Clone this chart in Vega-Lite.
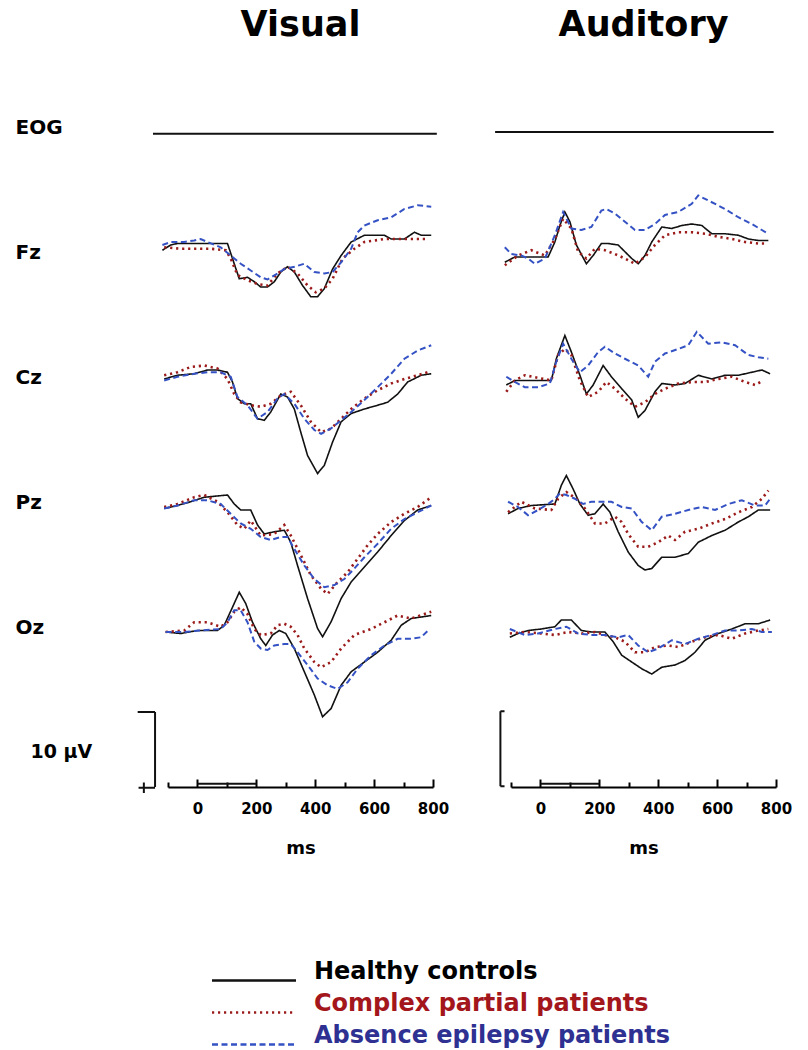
{
"$schema":"https://vega.github.io/schema/vega-lite/v6.json",
"background":"white",
"bounds":"flush",
"padding":{"left":15,"top":8,"right":5,"bottom":5},
"config":{"view":{"stroke":null},"font":"DejaVu Sans"},
"data":{"values":[
{"mod":"Visual","ch":"EOG","grp":"lab"},{"mod":"Visual","ch":"Fz","grp":"lab"},{"mod":"Visual","ch":"Cz","grp":"lab"},{"mod":"Visual","ch":"Pz","grp":"lab"},{"mod":"Visual","ch":"Oz","grp":"lab"},{"mod":"Visual","ch":"10 µV","grp":"lab"},
{"mod":"Visual","ch":"EOG","grp":"E","ms":-151,"uV":0.43},{"mod":"Visual","ch":"EOG","grp":"E","ms":813,"uV":0.43},
{"mod":"Auditory","ch":"EOG","grp":"E","ms":-154,"uV":0.2},{"mod":"Auditory","ch":"EOG","grp":"E","ms":792,"uV":0.2},
{"mod":"Visual","ch":"10 µV","grp":"cal","ms":-144,"ms2":-144,"uV":-5.8,"uV2":4.2},
{"mod":"Visual","ch":"10 µV","grp":"cal","ms":-203,"ms2":-144,"uV":-5.8,"uV2":-5.8},
{"mod":"Visual","ch":"10 µV","grp":"cal","ms":-200,"ms2":-144,"uV":4.3,"uV2":4.3},
{"mod":"Visual","ch":"10 µV","grp":"cal","ms":-182,"ms2":-182,"uV":3.6,"uV2":5.0},
{"mod":"Visual","ch":"10 µV","grp":"cal","ms":0,"ms2":200,"uV":3.75,"uV2":3.75},
{"mod":"Auditory","ch":"10 µV","grp":"cal","ms":-136,"ms2":-136,"uV":-5.9,"uV2":4.1},
{"mod":"Auditory","ch":"10 µV","grp":"cal","ms":-136,"ms2":-122,"uV":-5.9,"uV2":-5.9},
{"mod":"Auditory","ch":"10 µV","grp":"cal","ms":-136,"ms2":-122,"uV":4.1,"uV2":4.1},
{"mod":"Auditory","ch":"10 µV","grp":"cal","ms":0,"ms2":200,"uV":3.75,"uV2":3.75},

{"mod":"Visual","ch":"Fz","grp":"H","ms":-119,"uV":-0.7},{"mod":"Visual","ch":"Fz","grp":"H","ms":-91,"uV":-1.4},{"mod":"Visual","ch":"Fz","grp":"H","ms":-68,"uV":-1.6},{"mod":"Visual","ch":"Fz","grp":"H","ms":0,"uV":-1.6},{"mod":"Visual","ch":"Fz","grp":"H","ms":102,"uV":-1.6},{"mod":"Visual","ch":"Fz","grp":"H","ms":119,"uV":0.4},{"mod":"Visual","ch":"Fz","grp":"H","ms":142,"uV":3.1},{"mod":"Visual","ch":"Fz","grp":"H","ms":170,"uV":2.9},{"mod":"Visual","ch":"Fz","grp":"H","ms":193,"uV":3.5},{"mod":"Visual","ch":"Fz","grp":"H","ms":215,"uV":4.2},{"mod":"Visual","ch":"Fz","grp":"H","ms":238,"uV":4.2},{"mod":"Visual","ch":"Fz","grp":"H","ms":261,"uV":3.5},{"mod":"Visual","ch":"Fz","grp":"H","ms":283,"uV":2.2},{"mod":"Visual","ch":"Fz","grp":"H","ms":306,"uV":1.5},{"mod":"Visual","ch":"Fz","grp":"H","ms":329,"uV":2.2},{"mod":"Visual","ch":"Fz","grp":"H","ms":357,"uV":4.0},{"mod":"Visual","ch":"Fz","grp":"H","ms":385,"uV":5.5},{"mod":"Visual","ch":"Fz","grp":"H","ms":408,"uV":5.5},{"mod":"Visual","ch":"Fz","grp":"H","ms":431,"uV":4.4},{"mod":"Visual","ch":"Fz","grp":"H","ms":459,"uV":1.8},{"mod":"Visual","ch":"Fz","grp":"H","ms":488,"uV":0.0},{"mod":"Visual","ch":"Fz","grp":"H","ms":522,"uV":-1.8},{"mod":"Visual","ch":"Fz","grp":"H","ms":567,"uV":-2.7},{"mod":"Visual","ch":"Fz","grp":"H","ms":635,"uV":-2.7},{"mod":"Visual","ch":"Fz","grp":"H","ms":658,"uV":-2.2},{"mod":"Visual","ch":"Fz","grp":"H","ms":703,"uV":-2.2},{"mod":"Visual","ch":"Fz","grp":"H","ms":737,"uV":-3.1},{"mod":"Visual","ch":"Fz","grp":"H","ms":760,"uV":-2.7},{"mod":"Visual","ch":"Fz","grp":"H","ms":794,"uV":-2.7},

{"mod":"Visual","ch":"Fz","grp":"C","ms":-113,"uV":-1.1},{"mod":"Visual","ch":"Fz","grp":"C","ms":-57,"uV":-0.9},{"mod":"Visual","ch":"Fz","grp":"C","ms":45,"uV":-0.9},{"mod":"Visual","ch":"Fz","grp":"C","ms":96,"uV":-0.7},{"mod":"Visual","ch":"Fz","grp":"C","ms":113,"uV":0.4},{"mod":"Visual","ch":"Fz","grp":"C","ms":136,"uV":2.6},{"mod":"Visual","ch":"Fz","grp":"C","ms":170,"uV":3.3},{"mod":"Visual","ch":"Fz","grp":"C","ms":204,"uV":3.8},{"mod":"Visual","ch":"Fz","grp":"C","ms":238,"uV":4.0},{"mod":"Visual","ch":"Fz","grp":"C","ms":272,"uV":2.4},{"mod":"Visual","ch":"Fz","grp":"C","ms":306,"uV":1.5},{"mod":"Visual","ch":"Fz","grp":"C","ms":340,"uV":2.4},{"mod":"Visual","ch":"Fz","grp":"C","ms":374,"uV":4.0},{"mod":"Visual","ch":"Fz","grp":"C","ms":402,"uV":4.9},{"mod":"Visual","ch":"Fz","grp":"C","ms":431,"uV":4.4},{"mod":"Visual","ch":"Fz","grp":"C","ms":459,"uV":3.1},{"mod":"Visual","ch":"Fz","grp":"C","ms":493,"uV":0.4},{"mod":"Visual","ch":"Fz","grp":"C","ms":533,"uV":-0.9},{"mod":"Visual","ch":"Fz","grp":"C","ms":567,"uV":-1.8},{"mod":"Visual","ch":"Fz","grp":"C","ms":635,"uV":-2.2},{"mod":"Visual","ch":"Fz","grp":"C","ms":703,"uV":-2.2},{"mod":"Visual","ch":"Fz","grp":"C","ms":782,"uV":-2.2},

{"mod":"Visual","ch":"Fz","grp":"A","ms":-119,"uV":-1.4},{"mod":"Visual","ch":"Fz","grp":"A","ms":-91,"uV":-1.8},{"mod":"Visual","ch":"Fz","grp":"A","ms":-45,"uV":-1.8},{"mod":"Visual","ch":"Fz","grp":"A","ms":-11,"uV":-2.0},{"mod":"Visual","ch":"Fz","grp":"A","ms":11,"uV":-2.2},{"mod":"Visual","ch":"Fz","grp":"A","ms":34,"uV":-1.8},{"mod":"Visual","ch":"Fz","grp":"A","ms":79,"uV":-1.1},{"mod":"Visual","ch":"Fz","grp":"A","ms":113,"uV":0.0},{"mod":"Visual","ch":"Fz","grp":"A","ms":147,"uV":1.1},{"mod":"Visual","ch":"Fz","grp":"A","ms":181,"uV":2.0},{"mod":"Visual","ch":"Fz","grp":"A","ms":215,"uV":2.9},{"mod":"Visual","ch":"Fz","grp":"A","ms":238,"uV":3.2},{"mod":"Visual","ch":"Fz","grp":"A","ms":272,"uV":2.4},{"mod":"Visual","ch":"Fz","grp":"A","ms":295,"uV":1.8},{"mod":"Visual","ch":"Fz","grp":"A","ms":329,"uV":1.5},{"mod":"Visual","ch":"Fz","grp":"A","ms":363,"uV":1.1},{"mod":"Visual","ch":"Fz","grp":"A","ms":397,"uV":2.2},{"mod":"Visual","ch":"Fz","grp":"A","ms":431,"uV":2.4},{"mod":"Visual","ch":"Fz","grp":"A","ms":459,"uV":2.2},{"mod":"Visual","ch":"Fz","grp":"A","ms":488,"uV":0.9},{"mod":"Visual","ch":"Fz","grp":"A","ms":522,"uV":-0.9},{"mod":"Visual","ch":"Fz","grp":"A","ms":544,"uV":-3.1},{"mod":"Visual","ch":"Fz","grp":"A","ms":567,"uV":-4.0},{"mod":"Visual","ch":"Fz","grp":"A","ms":612,"uV":-4.7},{"mod":"Visual","ch":"Fz","grp":"A","ms":658,"uV":-5.1},{"mod":"Visual","ch":"Fz","grp":"A","ms":703,"uV":-6.2},{"mod":"Visual","ch":"Fz","grp":"A","ms":748,"uV":-6.7},{"mod":"Visual","ch":"Fz","grp":"A","ms":794,"uV":-6.5},

{"mod":"Visual","ch":"Cz","grp":"H","ms":-113,"uV":-0.2},{"mod":"Visual","ch":"Cz","grp":"H","ms":-68,"uV":-0.7},{"mod":"Visual","ch":"Cz","grp":"H","ms":-11,"uV":-0.9},{"mod":"Visual","ch":"Cz","grp":"H","ms":34,"uV":-1.4},{"mod":"Visual","ch":"Cz","grp":"H","ms":68,"uV":-1.4},{"mod":"Visual","ch":"Cz","grp":"H","ms":102,"uV":-1.1},{"mod":"Visual","ch":"Cz","grp":"H","ms":119,"uV":0.2},{"mod":"Visual","ch":"Cz","grp":"H","ms":136,"uV":2.4},{"mod":"Visual","ch":"Cz","grp":"H","ms":159,"uV":3.1},{"mod":"Visual","ch":"Cz","grp":"H","ms":181,"uV":3.1},{"mod":"Visual","ch":"Cz","grp":"H","ms":204,"uV":5.1},{"mod":"Visual","ch":"Cz","grp":"H","ms":227,"uV":5.3},{"mod":"Visual","ch":"Cz","grp":"H","ms":249,"uV":4.2},{"mod":"Visual","ch":"Cz","grp":"H","ms":283,"uV":1.8},{"mod":"Visual","ch":"Cz","grp":"H","ms":306,"uV":2.2},{"mod":"Visual","ch":"Cz","grp":"H","ms":329,"uV":3.8},{"mod":"Visual","ch":"Cz","grp":"H","ms":351,"uV":6.9},{"mod":"Visual","ch":"Cz","grp":"H","ms":374,"uV":10.0},{"mod":"Visual","ch":"Cz","grp":"H","ms":408,"uV":12.4},{"mod":"Visual","ch":"Cz","grp":"H","ms":431,"uV":11.3},{"mod":"Visual","ch":"Cz","grp":"H","ms":459,"uV":8.2},{"mod":"Visual","ch":"Cz","grp":"H","ms":488,"uV":5.5},{"mod":"Visual","ch":"Cz","grp":"H","ms":522,"uV":4.4},{"mod":"Visual","ch":"Cz","grp":"H","ms":567,"uV":3.8},{"mod":"Visual","ch":"Cz","grp":"H","ms":612,"uV":3.3},{"mod":"Visual","ch":"Cz","grp":"H","ms":646,"uV":2.9},{"mod":"Visual","ch":"Cz","grp":"H","ms":680,"uV":1.8},{"mod":"Visual","ch":"Cz","grp":"H","ms":714,"uV":0.2},{"mod":"Visual","ch":"Cz","grp":"H","ms":760,"uV":-0.7},{"mod":"Visual","ch":"Cz","grp":"H","ms":794,"uV":-0.9},

{"mod":"Visual","ch":"Cz","grp":"C","ms":-113,"uV":-0.7},{"mod":"Visual","ch":"Cz","grp":"C","ms":-68,"uV":-1.1},{"mod":"Visual","ch":"Cz","grp":"C","ms":-23,"uV":-1.8},{"mod":"Visual","ch":"Cz","grp":"C","ms":23,"uV":-2.0},{"mod":"Visual","ch":"Cz","grp":"C","ms":68,"uV":-1.6},{"mod":"Visual","ch":"Cz","grp":"C","ms":102,"uV":-0.2},{"mod":"Visual","ch":"Cz","grp":"C","ms":125,"uV":1.8},{"mod":"Visual","ch":"Cz","grp":"C","ms":147,"uV":2.9},{"mod":"Visual","ch":"Cz","grp":"C","ms":181,"uV":3.3},{"mod":"Visual","ch":"Cz","grp":"C","ms":215,"uV":3.5},{"mod":"Visual","ch":"Cz","grp":"C","ms":249,"uV":3.1},{"mod":"Visual","ch":"Cz","grp":"C","ms":283,"uV":2.0},{"mod":"Visual","ch":"Cz","grp":"C","ms":317,"uV":1.5},{"mod":"Visual","ch":"Cz","grp":"C","ms":351,"uV":3.3},{"mod":"Visual","ch":"Cz","grp":"C","ms":385,"uV":5.5},{"mod":"Visual","ch":"Cz","grp":"C","ms":420,"uV":6.9},{"mod":"Visual","ch":"Cz","grp":"C","ms":454,"uV":6.4},{"mod":"Visual","ch":"Cz","grp":"C","ms":488,"uV":5.1},{"mod":"Visual","ch":"Cz","grp":"C","ms":522,"uV":3.8},{"mod":"Visual","ch":"Cz","grp":"C","ms":567,"uV":2.4},{"mod":"Visual","ch":"Cz","grp":"C","ms":612,"uV":1.3},{"mod":"Visual","ch":"Cz","grp":"C","ms":658,"uV":0.4},{"mod":"Visual","ch":"Cz","grp":"C","ms":703,"uV":-0.2},{"mod":"Visual","ch":"Cz","grp":"C","ms":748,"uV":-0.7},{"mod":"Visual","ch":"Cz","grp":"C","ms":782,"uV":-1.1},

{"mod":"Visual","ch":"Cz","grp":"A","ms":-113,"uV":0.0},{"mod":"Visual","ch":"Cz","grp":"A","ms":-68,"uV":-0.5},{"mod":"Visual","ch":"Cz","grp":"A","ms":-11,"uV":-0.9},{"mod":"Visual","ch":"Cz","grp":"A","ms":34,"uV":-1.1},{"mod":"Visual","ch":"Cz","grp":"A","ms":79,"uV":-1.1},{"mod":"Visual","ch":"Cz","grp":"A","ms":113,"uV":-0.5},{"mod":"Visual","ch":"Cz","grp":"A","ms":136,"uV":2.2},{"mod":"Visual","ch":"Cz","grp":"A","ms":170,"uV":3.3},{"mod":"Visual","ch":"Cz","grp":"A","ms":204,"uV":5.1},{"mod":"Visual","ch":"Cz","grp":"A","ms":238,"uV":4.2},{"mod":"Visual","ch":"Cz","grp":"A","ms":272,"uV":2.4},{"mod":"Visual","ch":"Cz","grp":"A","ms":295,"uV":1.8},{"mod":"Visual","ch":"Cz","grp":"A","ms":329,"uV":3.1},{"mod":"Visual","ch":"Cz","grp":"A","ms":363,"uV":5.1},{"mod":"Visual","ch":"Cz","grp":"A","ms":397,"uV":6.6},{"mod":"Visual","ch":"Cz","grp":"A","ms":420,"uV":7.1},{"mod":"Visual","ch":"Cz","grp":"A","ms":454,"uV":6.4},{"mod":"Visual","ch":"Cz","grp":"A","ms":488,"uV":5.3},{"mod":"Visual","ch":"Cz","grp":"A","ms":522,"uV":4.2},{"mod":"Visual","ch":"Cz","grp":"A","ms":567,"uV":2.6},{"mod":"Visual","ch":"Cz","grp":"A","ms":612,"uV":0.9},{"mod":"Visual","ch":"Cz","grp":"A","ms":658,"uV":-0.9},{"mod":"Visual","ch":"Cz","grp":"A","ms":703,"uV":-2.9},{"mod":"Visual","ch":"Cz","grp":"A","ms":748,"uV":-4.0},{"mod":"Visual","ch":"Cz","grp":"A","ms":794,"uV":-4.7},

{"mod":"Visual","ch":"Pz","grp":"H","ms":-113,"uV":0.4},{"mod":"Visual","ch":"Pz","grp":"H","ms":-68,"uV":0.0},{"mod":"Visual","ch":"Pz","grp":"H","ms":-23,"uV":-0.5},{"mod":"Visual","ch":"Pz","grp":"H","ms":23,"uV":-1.1},{"mod":"Visual","ch":"Pz","grp":"H","ms":102,"uV":-1.4},{"mod":"Visual","ch":"Pz","grp":"H","ms":125,"uV":-0.2},{"mod":"Visual","ch":"Pz","grp":"H","ms":147,"uV":0.6},{"mod":"Visual","ch":"Pz","grp":"H","ms":181,"uV":0.6},{"mod":"Visual","ch":"Pz","grp":"H","ms":204,"uV":2.6},{"mod":"Visual","ch":"Pz","grp":"H","ms":227,"uV":3.8},{"mod":"Visual","ch":"Pz","grp":"H","ms":261,"uV":3.5},{"mod":"Visual","ch":"Pz","grp":"H","ms":295,"uV":3.3},{"mod":"Visual","ch":"Pz","grp":"H","ms":317,"uV":4.9},{"mod":"Visual","ch":"Pz","grp":"H","ms":340,"uV":8.0},{"mod":"Visual","ch":"Pz","grp":"H","ms":374,"uV":12.4},{"mod":"Visual","ch":"Pz","grp":"H","ms":408,"uV":16.4},{"mod":"Visual","ch":"Pz","grp":"H","ms":425,"uV":17.5},{"mod":"Visual","ch":"Pz","grp":"H","ms":454,"uV":15.5},{"mod":"Visual","ch":"Pz","grp":"H","ms":488,"uV":12.4},{"mod":"Visual","ch":"Pz","grp":"H","ms":522,"uV":10.2},{"mod":"Visual","ch":"Pz","grp":"H","ms":567,"uV":8.2},{"mod":"Visual","ch":"Pz","grp":"H","ms":612,"uV":6.2},{"mod":"Visual","ch":"Pz","grp":"H","ms":658,"uV":4.0},{"mod":"Visual","ch":"Pz","grp":"H","ms":703,"uV":2.0},{"mod":"Visual","ch":"Pz","grp":"H","ms":748,"uV":0.6},{"mod":"Visual","ch":"Pz","grp":"H","ms":794,"uV":0.0},

{"mod":"Visual","ch":"Pz","grp":"C","ms":-113,"uV":0.2},{"mod":"Visual","ch":"Pz","grp":"C","ms":-68,"uV":-0.2},{"mod":"Visual","ch":"Pz","grp":"C","ms":-11,"uV":-1.1},{"mod":"Visual","ch":"Pz","grp":"C","ms":23,"uV":-1.4},{"mod":"Visual","ch":"Pz","grp":"C","ms":68,"uV":-0.5},{"mod":"Visual","ch":"Pz","grp":"C","ms":102,"uV":0.9},{"mod":"Visual","ch":"Pz","grp":"C","ms":136,"uV":2.6},{"mod":"Visual","ch":"Pz","grp":"C","ms":159,"uV":3.1},{"mod":"Visual","ch":"Pz","grp":"C","ms":181,"uV":2.0},{"mod":"Visual","ch":"Pz","grp":"C","ms":215,"uV":4.0},{"mod":"Visual","ch":"Pz","grp":"C","ms":261,"uV":3.8},{"mod":"Visual","ch":"Pz","grp":"C","ms":295,"uV":2.6},{"mod":"Visual","ch":"Pz","grp":"C","ms":317,"uV":4.0},{"mod":"Visual","ch":"Pz","grp":"C","ms":351,"uV":6.6},{"mod":"Visual","ch":"Pz","grp":"C","ms":385,"uV":9.3},{"mod":"Visual","ch":"Pz","grp":"C","ms":420,"uV":11.1},{"mod":"Visual","ch":"Pz","grp":"C","ms":442,"uV":11.8},{"mod":"Visual","ch":"Pz","grp":"C","ms":476,"uV":10.2},{"mod":"Visual","ch":"Pz","grp":"C","ms":510,"uV":8.9},{"mod":"Visual","ch":"Pz","grp":"C","ms":544,"uV":7.1},{"mod":"Visual","ch":"Pz","grp":"C","ms":578,"uV":5.3},{"mod":"Visual","ch":"Pz","grp":"C","ms":612,"uV":3.8},{"mod":"Visual","ch":"Pz","grp":"C","ms":658,"uV":2.2},{"mod":"Visual","ch":"Pz","grp":"C","ms":703,"uV":1.1},{"mod":"Visual","ch":"Pz","grp":"C","ms":748,"uV":0.2},{"mod":"Visual","ch":"Pz","grp":"C","ms":794,"uV":-1.1},

{"mod":"Visual","ch":"Pz","grp":"A","ms":-113,"uV":0.4},{"mod":"Visual","ch":"Pz","grp":"A","ms":-68,"uV":0.0},{"mod":"Visual","ch":"Pz","grp":"A","ms":-11,"uV":-0.7},{"mod":"Visual","ch":"Pz","grp":"A","ms":34,"uV":-0.7},{"mod":"Visual","ch":"Pz","grp":"A","ms":79,"uV":-0.2},{"mod":"Visual","ch":"Pz","grp":"A","ms":113,"uV":1.1},{"mod":"Visual","ch":"Pz","grp":"A","ms":147,"uV":2.4},{"mod":"Visual","ch":"Pz","grp":"A","ms":181,"uV":3.1},{"mod":"Visual","ch":"Pz","grp":"A","ms":215,"uV":4.2},{"mod":"Visual","ch":"Pz","grp":"A","ms":249,"uV":4.6},{"mod":"Visual","ch":"Pz","grp":"A","ms":283,"uV":4.2},{"mod":"Visual","ch":"Pz","grp":"A","ms":306,"uV":4.2},{"mod":"Visual","ch":"Pz","grp":"A","ms":329,"uV":5.8},{"mod":"Visual","ch":"Pz","grp":"A","ms":363,"uV":8.0},{"mod":"Visual","ch":"Pz","grp":"A","ms":397,"uV":9.8},{"mod":"Visual","ch":"Pz","grp":"A","ms":431,"uV":10.9},{"mod":"Visual","ch":"Pz","grp":"A","ms":465,"uV":10.6},{"mod":"Visual","ch":"Pz","grp":"A","ms":499,"uV":9.8},{"mod":"Visual","ch":"Pz","grp":"A","ms":533,"uV":8.4},{"mod":"Visual","ch":"Pz","grp":"A","ms":567,"uV":6.9},{"mod":"Visual","ch":"Pz","grp":"A","ms":612,"uV":5.1},{"mod":"Visual","ch":"Pz","grp":"A","ms":658,"uV":3.1},{"mod":"Visual","ch":"Pz","grp":"A","ms":703,"uV":1.8},{"mod":"Visual","ch":"Pz","grp":"A","ms":748,"uV":0.9},{"mod":"Visual","ch":"Pz","grp":"A","ms":794,"uV":0.0},

{"mod":"Visual","ch":"Oz","grp":"H","ms":-108,"uV":0.2},{"mod":"Visual","ch":"Oz","grp":"H","ms":-57,"uV":0.4},{"mod":"Visual","ch":"Oz","grp":"H","ms":0,"uV":0.0},{"mod":"Visual","ch":"Oz","grp":"H","ms":68,"uV":0.0},{"mod":"Visual","ch":"Oz","grp":"H","ms":91,"uV":-0.7},{"mod":"Visual","ch":"Oz","grp":"H","ms":119,"uV":-3.1},{"mod":"Visual","ch":"Oz","grp":"H","ms":142,"uV":-5.1},{"mod":"Visual","ch":"Oz","grp":"H","ms":164,"uV":-3.6},{"mod":"Visual","ch":"Oz","grp":"H","ms":187,"uV":-1.1},{"mod":"Visual","ch":"Oz","grp":"H","ms":215,"uV":1.1},{"mod":"Visual","ch":"Oz","grp":"H","ms":232,"uV":2.0},{"mod":"Visual","ch":"Oz","grp":"H","ms":255,"uV":0.6},{"mod":"Visual","ch":"Oz","grp":"H","ms":278,"uV":0.0},{"mod":"Visual","ch":"Oz","grp":"H","ms":300,"uV":0.4},{"mod":"Visual","ch":"Oz","grp":"H","ms":329,"uV":2.4},{"mod":"Visual","ch":"Oz","grp":"H","ms":363,"uV":5.5},{"mod":"Visual","ch":"Oz","grp":"H","ms":397,"uV":8.6},{"mod":"Visual","ch":"Oz","grp":"H","ms":425,"uV":11.5},{"mod":"Visual","ch":"Oz","grp":"H","ms":454,"uV":10.4},{"mod":"Visual","ch":"Oz","grp":"H","ms":488,"uV":7.3},{"mod":"Visual","ch":"Oz","grp":"H","ms":522,"uV":5.5},{"mod":"Visual","ch":"Oz","grp":"H","ms":567,"uV":4.2},{"mod":"Visual","ch":"Oz","grp":"H","ms":612,"uV":2.9},{"mod":"Visual","ch":"Oz","grp":"H","ms":658,"uV":1.3},{"mod":"Visual","ch":"Oz","grp":"H","ms":692,"uV":-0.7},{"mod":"Visual","ch":"Oz","grp":"H","ms":726,"uV":-1.6},{"mod":"Visual","ch":"Oz","grp":"H","ms":794,"uV":-2.0},

{"mod":"Visual","ch":"Oz","grp":"C","ms":-108,"uV":0.2},{"mod":"Visual","ch":"Oz","grp":"C","ms":-45,"uV":0.0},{"mod":"Visual","ch":"Oz","grp":"C","ms":-11,"uV":-1.1},{"mod":"Visual","ch":"Oz","grp":"C","ms":34,"uV":-1.1},{"mod":"Visual","ch":"Oz","grp":"C","ms":79,"uV":-0.5},{"mod":"Visual","ch":"Oz","grp":"C","ms":102,"uV":-1.1},{"mod":"Visual","ch":"Oz","grp":"C","ms":125,"uV":-2.5},{"mod":"Visual","ch":"Oz","grp":"C","ms":147,"uV":-3.1},{"mod":"Visual","ch":"Oz","grp":"C","ms":170,"uV":-2.2},{"mod":"Visual","ch":"Oz","grp":"C","ms":193,"uV":-0.2},{"mod":"Visual","ch":"Oz","grp":"C","ms":215,"uV":0.6},{"mod":"Visual","ch":"Oz","grp":"C","ms":249,"uV":0.4},{"mod":"Visual","ch":"Oz","grp":"C","ms":272,"uV":-0.7},{"mod":"Visual","ch":"Oz","grp":"C","ms":295,"uV":-0.9},{"mod":"Visual","ch":"Oz","grp":"C","ms":317,"uV":-0.5},{"mod":"Visual","ch":"Oz","grp":"C","ms":340,"uV":0.6},{"mod":"Visual","ch":"Oz","grp":"C","ms":363,"uV":2.4},{"mod":"Visual","ch":"Oz","grp":"C","ms":397,"uV":4.2},{"mod":"Visual","ch":"Oz","grp":"C","ms":420,"uV":4.9},{"mod":"Visual","ch":"Oz","grp":"C","ms":454,"uV":4.2},{"mod":"Visual","ch":"Oz","grp":"C","ms":488,"uV":2.4},{"mod":"Visual","ch":"Oz","grp":"C","ms":533,"uV":0.6},{"mod":"Visual","ch":"Oz","grp":"C","ms":590,"uV":-0.2},{"mod":"Visual","ch":"Oz","grp":"C","ms":635,"uV":-1.1},{"mod":"Visual","ch":"Oz","grp":"C","ms":680,"uV":-2.0},{"mod":"Visual","ch":"Oz","grp":"C","ms":726,"uV":-1.6},{"mod":"Visual","ch":"Oz","grp":"C","ms":794,"uV":-2.5},

{"mod":"Visual","ch":"Oz","grp":"A","ms":-108,"uV":0.2},{"mod":"Visual","ch":"Oz","grp":"A","ms":-45,"uV":0.2},{"mod":"Visual","ch":"Oz","grp":"A","ms":11,"uV":0.0},{"mod":"Visual","ch":"Oz","grp":"A","ms":79,"uV":-0.2},{"mod":"Visual","ch":"Oz","grp":"A","ms":102,"uV":-1.1},{"mod":"Visual","ch":"Oz","grp":"A","ms":125,"uV":-2.7},{"mod":"Visual","ch":"Oz","grp":"A","ms":147,"uV":-2.7},{"mod":"Visual","ch":"Oz","grp":"A","ms":170,"uV":-1.1},{"mod":"Visual","ch":"Oz","grp":"A","ms":193,"uV":1.5},{"mod":"Visual","ch":"Oz","grp":"A","ms":215,"uV":2.4},{"mod":"Visual","ch":"Oz","grp":"A","ms":238,"uV":2.6},{"mod":"Visual","ch":"Oz","grp":"A","ms":261,"uV":2.0},{"mod":"Visual","ch":"Oz","grp":"A","ms":295,"uV":1.8},{"mod":"Visual","ch":"Oz","grp":"A","ms":317,"uV":1.8},{"mod":"Visual","ch":"Oz","grp":"A","ms":340,"uV":2.9},{"mod":"Visual","ch":"Oz","grp":"A","ms":374,"uV":4.6},{"mod":"Visual","ch":"Oz","grp":"A","ms":408,"uV":6.4},{"mod":"Visual","ch":"Oz","grp":"A","ms":442,"uV":7.3},{"mod":"Visual","ch":"Oz","grp":"A","ms":476,"uV":7.8},{"mod":"Visual","ch":"Oz","grp":"A","ms":510,"uV":6.9},{"mod":"Visual","ch":"Oz","grp":"A","ms":544,"uV":5.1},{"mod":"Visual","ch":"Oz","grp":"A","ms":590,"uV":3.3},{"mod":"Visual","ch":"Oz","grp":"A","ms":635,"uV":2.0},{"mod":"Visual","ch":"Oz","grp":"A","ms":680,"uV":1.1},{"mod":"Visual","ch":"Oz","grp":"A","ms":726,"uV":1.1},{"mod":"Visual","ch":"Oz","grp":"A","ms":760,"uV":0.9},{"mod":"Visual","ch":"Oz","grp":"A","ms":788,"uV":-0.2},

{"mod":"Auditory","ch":"Fz","grp":"H","ms":-121,"uV":0.9},{"mod":"Auditory","ch":"Fz","grp":"H","ms":-87,"uV":0.2},{"mod":"Auditory","ch":"Fz","grp":"H","ms":-53,"uV":0.2},{"mod":"Auditory","ch":"Fz","grp":"H","ms":26,"uV":0.2},{"mod":"Auditory","ch":"Fz","grp":"H","ms":49,"uV":-1.8},{"mod":"Auditory","ch":"Fz","grp":"H","ms":66,"uV":-4.0},{"mod":"Auditory","ch":"Fz","grp":"H","ms":83,"uV":-5.8},{"mod":"Auditory","ch":"Fz","grp":"H","ms":100,"uV":-4.5},{"mod":"Auditory","ch":"Fz","grp":"H","ms":122,"uV":-1.4},{"mod":"Auditory","ch":"Fz","grp":"H","ms":156,"uV":1.1},{"mod":"Auditory","ch":"Fz","grp":"H","ms":179,"uV":0.0},{"mod":"Auditory","ch":"Fz","grp":"H","ms":207,"uV":-1.6},{"mod":"Auditory","ch":"Fz","grp":"H","ms":230,"uV":-1.6},{"mod":"Auditory","ch":"Fz","grp":"H","ms":264,"uV":-1.4},{"mod":"Auditory","ch":"Fz","grp":"H","ms":287,"uV":-0.5},{"mod":"Auditory","ch":"Fz","grp":"H","ms":310,"uV":0.4},{"mod":"Auditory","ch":"Fz","grp":"H","ms":332,"uV":1.1},{"mod":"Auditory","ch":"Fz","grp":"H","ms":355,"uV":0.0},{"mod":"Auditory","ch":"Fz","grp":"H","ms":378,"uV":-1.8},{"mod":"Auditory","ch":"Fz","grp":"H","ms":412,"uV":-3.8},{"mod":"Auditory","ch":"Fz","grp":"H","ms":446,"uV":-3.6},{"mod":"Auditory","ch":"Fz","grp":"H","ms":480,"uV":-4.0},{"mod":"Auditory","ch":"Fz","grp":"H","ms":514,"uV":-4.2},{"mod":"Auditory","ch":"Fz","grp":"H","ms":548,"uV":-4.0},{"mod":"Auditory","ch":"Fz","grp":"H","ms":582,"uV":-2.9},{"mod":"Auditory","ch":"Fz","grp":"H","ms":627,"uV":-2.9},{"mod":"Auditory","ch":"Fz","grp":"H","ms":672,"uV":-2.7},{"mod":"Auditory","ch":"Fz","grp":"H","ms":706,"uV":-2.2},{"mod":"Auditory","ch":"Fz","grp":"H","ms":740,"uV":-2.0},{"mod":"Auditory","ch":"Fz","grp":"H","ms":774,"uV":-2.0},

{"mod":"Auditory","ch":"Fz","grp":"C","ms":-121,"uV":1.3},{"mod":"Auditory","ch":"Fz","grp":"C","ms":-76,"uV":0.0},{"mod":"Auditory","ch":"Fz","grp":"C","ms":-31,"uV":-0.7},{"mod":"Auditory","ch":"Fz","grp":"C","ms":15,"uV":0.0},{"mod":"Auditory","ch":"Fz","grp":"C","ms":49,"uV":-2.2},{"mod":"Auditory","ch":"Fz","grp":"C","ms":77,"uV":-4.9},{"mod":"Auditory","ch":"Fz","grp":"C","ms":105,"uV":-3.6},{"mod":"Auditory","ch":"Fz","grp":"C","ms":128,"uV":-0.5},{"mod":"Auditory","ch":"Fz","grp":"C","ms":156,"uV":0.4},{"mod":"Auditory","ch":"Fz","grp":"C","ms":185,"uV":-0.9},{"mod":"Auditory","ch":"Fz","grp":"C","ms":219,"uV":-0.7},{"mod":"Auditory","ch":"Fz","grp":"C","ms":253,"uV":-0.2},{"mod":"Auditory","ch":"Fz","grp":"C","ms":287,"uV":0.4},{"mod":"Auditory","ch":"Fz","grp":"C","ms":321,"uV":1.1},{"mod":"Auditory","ch":"Fz","grp":"C","ms":355,"uV":0.2},{"mod":"Auditory","ch":"Fz","grp":"C","ms":389,"uV":-1.4},{"mod":"Auditory","ch":"Fz","grp":"C","ms":423,"uV":-2.7},{"mod":"Auditory","ch":"Fz","grp":"C","ms":468,"uV":-3.1},{"mod":"Auditory","ch":"Fz","grp":"C","ms":514,"uV":-3.1},{"mod":"Auditory","ch":"Fz","grp":"C","ms":559,"uV":-2.9},{"mod":"Auditory","ch":"Fz","grp":"C","ms":604,"uV":-2.5},{"mod":"Auditory","ch":"Fz","grp":"C","ms":650,"uV":-2.2},{"mod":"Auditory","ch":"Fz","grp":"C","ms":695,"uV":-1.8},{"mod":"Auditory","ch":"Fz","grp":"C","ms":740,"uV":-1.6},{"mod":"Auditory","ch":"Fz","grp":"C","ms":763,"uV":-1.6},

{"mod":"Auditory","ch":"Fz","grp":"A","ms":-121,"uV":-1.1},{"mod":"Auditory","ch":"Fz","grp":"A","ms":-99,"uV":-0.2},{"mod":"Auditory","ch":"Fz","grp":"A","ms":-65,"uV":0.0},{"mod":"Auditory","ch":"Fz","grp":"A","ms":-42,"uV":0.4},{"mod":"Auditory","ch":"Fz","grp":"A","ms":-19,"uV":1.1},{"mod":"Auditory","ch":"Fz","grp":"A","ms":15,"uV":0.4},{"mod":"Auditory","ch":"Fz","grp":"A","ms":49,"uV":-2.7},{"mod":"Auditory","ch":"Fz","grp":"A","ms":77,"uV":-5.8},{"mod":"Auditory","ch":"Fz","grp":"A","ms":105,"uV":-3.6},{"mod":"Auditory","ch":"Fz","grp":"A","ms":139,"uV":-3.4},{"mod":"Auditory","ch":"Fz","grp":"A","ms":173,"uV":-3.8},{"mod":"Auditory","ch":"Fz","grp":"A","ms":207,"uV":-6.0},{"mod":"Auditory","ch":"Fz","grp":"A","ms":224,"uV":-6.2},{"mod":"Auditory","ch":"Fz","grp":"A","ms":253,"uV":-5.6},{"mod":"Auditory","ch":"Fz","grp":"A","ms":287,"uV":-4.5},{"mod":"Auditory","ch":"Fz","grp":"A","ms":321,"uV":-3.4},{"mod":"Auditory","ch":"Fz","grp":"A","ms":355,"uV":-3.4},{"mod":"Auditory","ch":"Fz","grp":"A","ms":389,"uV":-4.2},{"mod":"Auditory","ch":"Fz","grp":"A","ms":423,"uV":-5.4},{"mod":"Auditory","ch":"Fz","grp":"A","ms":468,"uV":-5.8},{"mod":"Auditory","ch":"Fz","grp":"A","ms":514,"uV":-6.9},{"mod":"Auditory","ch":"Fz","grp":"A","ms":536,"uV":-8.0},{"mod":"Auditory","ch":"Fz","grp":"A","ms":582,"uV":-7.1},{"mod":"Auditory","ch":"Fz","grp":"A","ms":627,"uV":-6.2},{"mod":"Auditory","ch":"Fz","grp":"A","ms":672,"uV":-5.1},{"mod":"Auditory","ch":"Fz","grp":"A","ms":718,"uV":-4.2},{"mod":"Auditory","ch":"Fz","grp":"A","ms":752,"uV":-3.4},{"mod":"Auditory","ch":"Fz","grp":"A","ms":774,"uV":-2.9},

{"mod":"Auditory","ch":"Cz","grp":"H","ms":-116,"uV":0.6},{"mod":"Auditory","ch":"Cz","grp":"H","ms":-87,"uV":0.0},{"mod":"Auditory","ch":"Cz","grp":"H","ms":37,"uV":0.0},{"mod":"Auditory","ch":"Cz","grp":"H","ms":54,"uV":-2.9},{"mod":"Auditory","ch":"Cz","grp":"H","ms":83,"uV":-6.0},{"mod":"Auditory","ch":"Cz","grp":"H","ms":105,"uV":-3.8},{"mod":"Auditory","ch":"Cz","grp":"H","ms":134,"uV":-0.7},{"mod":"Auditory","ch":"Cz","grp":"H","ms":156,"uV":1.8},{"mod":"Auditory","ch":"Cz","grp":"H","ms":179,"uV":0.6},{"mod":"Auditory","ch":"Cz","grp":"H","ms":213,"uV":-2.0},{"mod":"Auditory","ch":"Cz","grp":"H","ms":241,"uV":-0.5},{"mod":"Auditory","ch":"Cz","grp":"H","ms":276,"uV":1.1},{"mod":"Auditory","ch":"Cz","grp":"H","ms":310,"uV":2.6},{"mod":"Auditory","ch":"Cz","grp":"H","ms":332,"uV":4.9},{"mod":"Auditory","ch":"Cz","grp":"H","ms":355,"uV":4.0},{"mod":"Auditory","ch":"Cz","grp":"H","ms":389,"uV":1.5},{"mod":"Auditory","ch":"Cz","grp":"H","ms":412,"uV":0.4},{"mod":"Auditory","ch":"Cz","grp":"H","ms":457,"uV":0.6},{"mod":"Auditory","ch":"Cz","grp":"H","ms":491,"uV":0.4},{"mod":"Auditory","ch":"Cz","grp":"H","ms":536,"uV":-0.7},{"mod":"Auditory","ch":"Cz","grp":"H","ms":582,"uV":-0.2},{"mod":"Auditory","ch":"Cz","grp":"H","ms":627,"uV":-0.7},{"mod":"Auditory","ch":"Cz","grp":"H","ms":672,"uV":-0.7},{"mod":"Auditory","ch":"Cz","grp":"H","ms":718,"uV":-1.1},{"mod":"Auditory","ch":"Cz","grp":"H","ms":752,"uV":-1.4},{"mod":"Auditory","ch":"Cz","grp":"H","ms":780,"uV":-0.9},

{"mod":"Auditory","ch":"Cz","grp":"C","ms":-116,"uV":1.5},{"mod":"Auditory","ch":"Cz","grp":"C","ms":-87,"uV":0.0},{"mod":"Auditory","ch":"Cz","grp":"C","ms":-53,"uV":-0.7},{"mod":"Auditory","ch":"Cz","grp":"C","ms":37,"uV":0.0},{"mod":"Auditory","ch":"Cz","grp":"C","ms":60,"uV":-3.4},{"mod":"Auditory","ch":"Cz","grp":"C","ms":83,"uV":-4.2},{"mod":"Auditory","ch":"Cz","grp":"C","ms":105,"uV":-3.4},{"mod":"Auditory","ch":"Cz","grp":"C","ms":134,"uV":0.0},{"mod":"Auditory","ch":"Cz","grp":"C","ms":162,"uV":2.2},{"mod":"Auditory","ch":"Cz","grp":"C","ms":196,"uV":1.5},{"mod":"Auditory","ch":"Cz","grp":"C","ms":224,"uV":0.2},{"mod":"Auditory","ch":"Cz","grp":"C","ms":253,"uV":1.1},{"mod":"Auditory","ch":"Cz","grp":"C","ms":287,"uV":2.4},{"mod":"Auditory","ch":"Cz","grp":"C","ms":321,"uV":3.5},{"mod":"Auditory","ch":"Cz","grp":"C","ms":355,"uV":2.9},{"mod":"Auditory","ch":"Cz","grp":"C","ms":389,"uV":1.8},{"mod":"Auditory","ch":"Cz","grp":"C","ms":423,"uV":1.1},{"mod":"Auditory","ch":"Cz","grp":"C","ms":468,"uV":0.4},{"mod":"Auditory","ch":"Cz","grp":"C","ms":514,"uV":0.2},{"mod":"Auditory","ch":"Cz","grp":"C","ms":559,"uV":0.2},{"mod":"Auditory","ch":"Cz","grp":"C","ms":604,"uV":-0.2},{"mod":"Auditory","ch":"Cz","grp":"C","ms":650,"uV":-0.5},{"mod":"Auditory","ch":"Cz","grp":"C","ms":695,"uV":0.2},{"mod":"Auditory","ch":"Cz","grp":"C","ms":729,"uV":0.6},{"mod":"Auditory","ch":"Cz","grp":"C","ms":757,"uV":0.0},

{"mod":"Auditory","ch":"Cz","grp":"A","ms":-116,"uV":-0.5},{"mod":"Auditory","ch":"Cz","grp":"A","ms":-87,"uV":0.2},{"mod":"Auditory","ch":"Cz","grp":"A","ms":-53,"uV":0.9},{"mod":"Auditory","ch":"Cz","grp":"A","ms":-8,"uV":0.9},{"mod":"Auditory","ch":"Cz","grp":"A","ms":32,"uV":0.4},{"mod":"Auditory","ch":"Cz","grp":"A","ms":54,"uV":-2.5},{"mod":"Auditory","ch":"Cz","grp":"A","ms":77,"uV":-4.9},{"mod":"Auditory","ch":"Cz","grp":"A","ms":105,"uV":-2.9},{"mod":"Auditory","ch":"Cz","grp":"A","ms":134,"uV":-1.1},{"mod":"Auditory","ch":"Cz","grp":"A","ms":162,"uV":-2.0},{"mod":"Auditory","ch":"Cz","grp":"A","ms":196,"uV":-3.8},{"mod":"Auditory","ch":"Cz","grp":"A","ms":219,"uV":-4.5},{"mod":"Auditory","ch":"Cz","grp":"A","ms":253,"uV":-3.6},{"mod":"Auditory","ch":"Cz","grp":"A","ms":287,"uV":-2.9},{"mod":"Auditory","ch":"Cz","grp":"A","ms":332,"uV":-2.0},{"mod":"Auditory","ch":"Cz","grp":"A","ms":366,"uV":-0.5},{"mod":"Auditory","ch":"Cz","grp":"A","ms":389,"uV":-2.5},{"mod":"Auditory","ch":"Cz","grp":"A","ms":423,"uV":-3.6},{"mod":"Auditory","ch":"Cz","grp":"A","ms":468,"uV":-4.2},{"mod":"Auditory","ch":"Cz","grp":"A","ms":502,"uV":-4.7},{"mod":"Auditory","ch":"Cz","grp":"A","ms":531,"uV":-6.5},{"mod":"Auditory","ch":"Cz","grp":"A","ms":570,"uV":-4.9},{"mod":"Auditory","ch":"Cz","grp":"A","ms":616,"uV":-5.1},{"mod":"Auditory","ch":"Cz","grp":"A","ms":661,"uV":-4.7},{"mod":"Auditory","ch":"Cz","grp":"A","ms":706,"uV":-3.4},{"mod":"Auditory","ch":"Cz","grp":"A","ms":740,"uV":-3.1},{"mod":"Auditory","ch":"Cz","grp":"A","ms":774,"uV":-2.9},

{"mod":"Auditory","ch":"Pz","grp":"H","ms":-110,"uV":1.1},{"mod":"Auditory","ch":"Pz","grp":"H","ms":-76,"uV":0.4},{"mod":"Auditory","ch":"Pz","grp":"H","ms":-31,"uV":0.0},{"mod":"Auditory","ch":"Pz","grp":"H","ms":49,"uV":-0.2},{"mod":"Auditory","ch":"Pz","grp":"H","ms":71,"uV":-2.7},{"mod":"Auditory","ch":"Pz","grp":"H","ms":88,"uV":-4.0},{"mod":"Auditory","ch":"Pz","grp":"H","ms":111,"uV":-2.2},{"mod":"Auditory","ch":"Pz","grp":"H","ms":134,"uV":-0.2},{"mod":"Auditory","ch":"Pz","grp":"H","ms":162,"uV":1.3},{"mod":"Auditory","ch":"Pz","grp":"H","ms":185,"uV":1.1},{"mod":"Auditory","ch":"Pz","grp":"H","ms":213,"uV":-0.2},{"mod":"Auditory","ch":"Pz","grp":"H","ms":236,"uV":0.9},{"mod":"Auditory","ch":"Pz","grp":"H","ms":264,"uV":3.5},{"mod":"Auditory","ch":"Pz","grp":"H","ms":298,"uV":6.2},{"mod":"Auditory","ch":"Pz","grp":"H","ms":332,"uV":8.0},{"mod":"Auditory","ch":"Pz","grp":"H","ms":355,"uV":8.6},{"mod":"Auditory","ch":"Pz","grp":"H","ms":378,"uV":8.4},{"mod":"Auditory","ch":"Pz","grp":"H","ms":412,"uV":6.9},{"mod":"Auditory","ch":"Pz","grp":"H","ms":457,"uV":6.9},{"mod":"Auditory","ch":"Pz","grp":"H","ms":502,"uV":6.4},{"mod":"Auditory","ch":"Pz","grp":"H","ms":536,"uV":4.9},{"mod":"Auditory","ch":"Pz","grp":"H","ms":582,"uV":4.0},{"mod":"Auditory","ch":"Pz","grp":"H","ms":627,"uV":3.3},{"mod":"Auditory","ch":"Pz","grp":"H","ms":672,"uV":2.2},{"mod":"Auditory","ch":"Pz","grp":"H","ms":706,"uV":1.5},{"mod":"Auditory","ch":"Pz","grp":"H","ms":740,"uV":0.6},{"mod":"Auditory","ch":"Pz","grp":"H","ms":780,"uV":0.6},

{"mod":"Auditory","ch":"Pz","grp":"C","ms":-110,"uV":0.9},{"mod":"Auditory","ch":"Pz","grp":"C","ms":-65,"uV":-0.5},{"mod":"Auditory","ch":"Pz","grp":"C","ms":-19,"uV":0.4},{"mod":"Auditory","ch":"Pz","grp":"C","ms":37,"uV":0.6},{"mod":"Auditory","ch":"Pz","grp":"C","ms":60,"uV":-0.9},{"mod":"Auditory","ch":"Pz","grp":"C","ms":88,"uV":-1.8},{"mod":"Auditory","ch":"Pz","grp":"C","ms":122,"uV":-0.9},{"mod":"Auditory","ch":"Pz","grp":"C","ms":151,"uV":0.4},{"mod":"Auditory","ch":"Pz","grp":"C","ms":185,"uV":2.4},{"mod":"Auditory","ch":"Pz","grp":"C","ms":219,"uV":2.4},{"mod":"Auditory","ch":"Pz","grp":"C","ms":253,"uV":1.5},{"mod":"Auditory","ch":"Pz","grp":"C","ms":276,"uV":2.2},{"mod":"Auditory","ch":"Pz","grp":"C","ms":298,"uV":3.8},{"mod":"Auditory","ch":"Pz","grp":"C","ms":332,"uV":5.5},{"mod":"Auditory","ch":"Pz","grp":"C","ms":366,"uV":5.5},{"mod":"Auditory","ch":"Pz","grp":"C","ms":400,"uV":4.9},{"mod":"Auditory","ch":"Pz","grp":"C","ms":434,"uV":4.0},{"mod":"Auditory","ch":"Pz","grp":"C","ms":457,"uV":4.6},{"mod":"Auditory","ch":"Pz","grp":"C","ms":491,"uV":3.5},{"mod":"Auditory","ch":"Pz","grp":"C","ms":536,"uV":3.1},{"mod":"Auditory","ch":"Pz","grp":"C","ms":582,"uV":2.4},{"mod":"Auditory","ch":"Pz","grp":"C","ms":627,"uV":1.8},{"mod":"Auditory","ch":"Pz","grp":"C","ms":672,"uV":0.9},{"mod":"Auditory","ch":"Pz","grp":"C","ms":718,"uV":0.2},{"mod":"Auditory","ch":"Pz","grp":"C","ms":752,"uV":-0.9},{"mod":"Auditory","ch":"Pz","grp":"C","ms":774,"uV":-2.0},

{"mod":"Auditory","ch":"Pz","grp":"A","ms":-110,"uV":-0.5},{"mod":"Auditory","ch":"Pz","grp":"A","ms":-76,"uV":0.2},{"mod":"Auditory","ch":"Pz","grp":"A","ms":-42,"uV":1.3},{"mod":"Auditory","ch":"Pz","grp":"A","ms":-8,"uV":0.6},{"mod":"Auditory","ch":"Pz","grp":"A","ms":26,"uV":-0.2},{"mod":"Auditory","ch":"Pz","grp":"A","ms":49,"uV":-0.9},{"mod":"Auditory","ch":"Pz","grp":"A","ms":66,"uV":-1.6},{"mod":"Auditory","ch":"Pz","grp":"A","ms":88,"uV":-1.4},{"mod":"Auditory","ch":"Pz","grp":"A","ms":117,"uV":-0.9},{"mod":"Auditory","ch":"Pz","grp":"A","ms":145,"uV":-0.2},{"mod":"Auditory","ch":"Pz","grp":"A","ms":173,"uV":-0.5},{"mod":"Auditory","ch":"Pz","grp":"A","ms":207,"uV":-0.5},{"mod":"Auditory","ch":"Pz","grp":"A","ms":241,"uV":-0.5},{"mod":"Auditory","ch":"Pz","grp":"A","ms":276,"uV":0.2},{"mod":"Auditory","ch":"Pz","grp":"A","ms":310,"uV":0.4},{"mod":"Auditory","ch":"Pz","grp":"A","ms":344,"uV":2.2},{"mod":"Auditory","ch":"Pz","grp":"A","ms":378,"uV":3.3},{"mod":"Auditory","ch":"Pz","grp":"A","ms":412,"uV":1.5},{"mod":"Auditory","ch":"Pz","grp":"A","ms":457,"uV":1.1},{"mod":"Auditory","ch":"Pz","grp":"A","ms":502,"uV":0.6},{"mod":"Auditory","ch":"Pz","grp":"A","ms":548,"uV":0.2},{"mod":"Auditory","ch":"Pz","grp":"A","ms":593,"uV":0.6},{"mod":"Auditory","ch":"Pz","grp":"A","ms":638,"uV":-0.2},{"mod":"Auditory","ch":"Pz","grp":"A","ms":684,"uV":-0.7},{"mod":"Auditory","ch":"Pz","grp":"A","ms":729,"uV":0.0},{"mod":"Auditory","ch":"Pz","grp":"A","ms":763,"uV":0.0},{"mod":"Auditory","ch":"Pz","grp":"A","ms":780,"uV":-0.9},

{"mod":"Auditory","ch":"Oz","grp":"H","ms":-104,"uV":0.9},{"mod":"Auditory","ch":"Oz","grp":"H","ms":-76,"uV":0.4},{"mod":"Auditory","ch":"Oz","grp":"H","ms":-42,"uV":0.0},{"mod":"Auditory","ch":"Oz","grp":"H","ms":3,"uV":-0.2},{"mod":"Auditory","ch":"Oz","grp":"H","ms":49,"uV":-0.5},{"mod":"Auditory","ch":"Oz","grp":"H","ms":71,"uV":-1.4},{"mod":"Auditory","ch":"Oz","grp":"H","ms":105,"uV":-1.4},{"mod":"Auditory","ch":"Oz","grp":"H","ms":139,"uV":0.0},{"mod":"Auditory","ch":"Oz","grp":"H","ms":173,"uV":0.2},{"mod":"Auditory","ch":"Oz","grp":"H","ms":219,"uV":0.2},{"mod":"Auditory","ch":"Oz","grp":"H","ms":247,"uV":1.5},{"mod":"Auditory","ch":"Oz","grp":"H","ms":276,"uV":3.3},{"mod":"Auditory","ch":"Oz","grp":"H","ms":310,"uV":4.2},{"mod":"Auditory","ch":"Oz","grp":"H","ms":344,"uV":5.1},{"mod":"Auditory","ch":"Oz","grp":"H","ms":378,"uV":5.8},{"mod":"Auditory","ch":"Oz","grp":"H","ms":412,"uV":4.9},{"mod":"Auditory","ch":"Oz","grp":"H","ms":457,"uV":4.6},{"mod":"Auditory","ch":"Oz","grp":"H","ms":491,"uV":4.0},{"mod":"Auditory","ch":"Oz","grp":"H","ms":525,"uV":2.9},{"mod":"Auditory","ch":"Oz","grp":"H","ms":559,"uV":1.3},{"mod":"Auditory","ch":"Oz","grp":"H","ms":604,"uV":0.4},{"mod":"Auditory","ch":"Oz","grp":"H","ms":650,"uV":-0.2},{"mod":"Auditory","ch":"Oz","grp":"H","ms":695,"uV":-0.9},{"mod":"Auditory","ch":"Oz","grp":"H","ms":740,"uV":-0.9},{"mod":"Auditory","ch":"Oz","grp":"H","ms":780,"uV":-1.4},

{"mod":"Auditory","ch":"Oz","grp":"C","ms":-104,"uV":0.4},{"mod":"Auditory","ch":"Oz","grp":"C","ms":-53,"uV":0.2},{"mod":"Auditory","ch":"Oz","grp":"C","ms":3,"uV":0.4},{"mod":"Auditory","ch":"Oz","grp":"C","ms":49,"uV":0.6},{"mod":"Auditory","ch":"Oz","grp":"C","ms":94,"uV":0.2},{"mod":"Auditory","ch":"Oz","grp":"C","ms":139,"uV":0.4},{"mod":"Auditory","ch":"Oz","grp":"C","ms":185,"uV":0.2},{"mod":"Auditory","ch":"Oz","grp":"C","ms":219,"uV":0.6},{"mod":"Auditory","ch":"Oz","grp":"C","ms":253,"uV":0.9},{"mod":"Auditory","ch":"Oz","grp":"C","ms":287,"uV":1.5},{"mod":"Auditory","ch":"Oz","grp":"C","ms":321,"uV":2.9},{"mod":"Auditory","ch":"Oz","grp":"C","ms":355,"uV":2.9},{"mod":"Auditory","ch":"Oz","grp":"C","ms":389,"uV":2.2},{"mod":"Auditory","ch":"Oz","grp":"C","ms":434,"uV":2.0},{"mod":"Auditory","ch":"Oz","grp":"C","ms":468,"uV":2.2},{"mod":"Auditory","ch":"Oz","grp":"C","ms":514,"uV":1.5},{"mod":"Auditory","ch":"Oz","grp":"C","ms":559,"uV":0.9},{"mod":"Auditory","ch":"Oz","grp":"C","ms":604,"uV":0.6},{"mod":"Auditory","ch":"Oz","grp":"C","ms":650,"uV":1.1},{"mod":"Auditory","ch":"Oz","grp":"C","ms":695,"uV":0.4},{"mod":"Auditory","ch":"Oz","grp":"C","ms":740,"uV":0.0},{"mod":"Auditory","ch":"Oz","grp":"C","ms":774,"uV":-0.2},

{"mod":"Auditory","ch":"Oz","grp":"A","ms":-104,"uV":-0.2},{"mod":"Auditory","ch":"Oz","grp":"A","ms":-53,"uV":0.6},{"mod":"Auditory","ch":"Oz","grp":"A","ms":-8,"uV":0.4},{"mod":"Auditory","ch":"Oz","grp":"A","ms":49,"uV":-0.2},{"mod":"Auditory","ch":"Oz","grp":"A","ms":88,"uV":-0.5},{"mod":"Auditory","ch":"Oz","grp":"A","ms":128,"uV":0.4},{"mod":"Auditory","ch":"Oz","grp":"A","ms":173,"uV":0.6},{"mod":"Auditory","ch":"Oz","grp":"A","ms":219,"uV":0.6},{"mod":"Auditory","ch":"Oz","grp":"A","ms":264,"uV":0.9},{"mod":"Auditory","ch":"Oz","grp":"A","ms":298,"uV":0.6},{"mod":"Auditory","ch":"Oz","grp":"A","ms":332,"uV":2.0},{"mod":"Auditory","ch":"Oz","grp":"A","ms":366,"uV":2.9},{"mod":"Auditory","ch":"Oz","grp":"A","ms":400,"uV":2.4},{"mod":"Auditory","ch":"Oz","grp":"A","ms":446,"uV":1.3},{"mod":"Auditory","ch":"Oz","grp":"A","ms":491,"uV":1.8},{"mod":"Auditory","ch":"Oz","grp":"A","ms":536,"uV":1.1},{"mod":"Auditory","ch":"Oz","grp":"A","ms":582,"uV":0.6},{"mod":"Auditory","ch":"Oz","grp":"A","ms":627,"uV":0.0},{"mod":"Auditory","ch":"Oz","grp":"A","ms":672,"uV":0.0},{"mod":"Auditory","ch":"Oz","grp":"A","ms":718,"uV":-0.2},{"mod":"Auditory","ch":"Oz","grp":"A","ms":752,"uV":0.2},{"mod":"Auditory","ch":"Oz","grp":"A","ms":786,"uV":0.2}
]},
"facet":{
 "row":{"field":"ch","type":"nominal","sort":["EOG","Fz","Cz","Pz","Oz","10 µV"],"header":{"title":null,"labels":false}},
 "column":{"field":"mod","type":"nominal","sort":["Visual","Auditory"],"header":{"title":null,"labelFontSize":35,"labelFontWeight":"bold","labelColor":"black","labelPadding":25}}
},
"spacing":{"row":0,"column":78},
"spec":{
 "width":265,"height":125,
 "layer":[
  {"transform":[{"filter":"datum.grp == 'H'"}],
   "mark":{"type":"line","strokeWidth":1.6,"clip":false},
   "encoding":{
    "x":{"field":"ms","type":"quantitative","scale":{"domain":[-100,800],"nice":false,"zero":false},
     "axis":{"values":[-100,0,100,200,300,400,500,600,700,800],"labelExpr":"datum.value >= 0 && datum.value % 200 == 0 ? datum.label : ''","tickSize":{"condition":{"test":"datum.value % 200 == 0","value":-8},"value":-5},"tickWidth":2,"tickColor":"black","domainColor":"black","domainWidth":2,"labelFontSize":15,"labelFontWeight":"bold","labelColor":"black","labelPadding":22,"labelOverlap":false,"labelFlush":false,"title":"ms","titleFontSize":18,"titleFontWeight":"bold","titleColor":"black","titlePadding":20,"offset":-31,"grid":false}},
    "y":{"field":"uV","type":"quantitative","scale":{"domain":[-8.333,8.333],"reverse":true,"nice":false,"zero":false},"axis":null},
    "color":{"field":"grp","type":"nominal","scale":{"domain":["H","C","A"],"range":["#111111","#9b1b1b","#3552c4"]},
     "legend":{"title":null,"orient":"none","legendX":74,"legendY":892,"labelExpr":"datum.value == 'H' ? 'Healthy controls' : datum.value == 'C' ? 'Complex partial patients' : 'Absence epilepsy patients'","symbolType":"M-4,0.8H4","symbolSize":441,"symbolStrokeWidth":2.5,"labelFontSize":24,"labelFontWeight":"bold","labelOffset":48,"rowPadding":6,"labelLimit":600,"padding":0,"labelColor":{"expr":"datum.value == 'H' ? '#000000' : datum.value == 'C' ? '#a3161b' : '#2e3192'"}}},
    "strokeDash":{"field":"grp","type":"nominal","scale":{"domain":["H","C","A"],"range":[[1,0],[2.2,3.8],[6,3.5]]},
     "legend":{"title":null,"orient":"none","legendX":74,"legendY":892,"labelExpr":"datum.value == 'H' ? 'Healthy controls' : datum.value == 'C' ? 'Complex partial patients' : 'Absence epilepsy patients'","symbolType":"M-4,0.8H4","symbolSize":441,"symbolStrokeWidth":2.5,"labelFontSize":24,"labelFontWeight":"bold","labelOffset":48,"rowPadding":6,"labelLimit":600,"padding":0,"labelColor":{"expr":"datum.value == 'H' ? '#000000' : datum.value == 'C' ? '#a3161b' : '#2e3192'"}}}
   }},
  {"transform":[{"filter":"datum.grp == 'C'"}],
   "mark":{"type":"line","strokeWidth":2.6,"clip":false},
   "encoding":{"x":{"field":"ms","type":"quantitative","axis":{"values":[-100,0,100,200,300,400,500,600,700,800],"labelExpr":"datum.value >= 0 && datum.value % 200 == 0 ? datum.label : ''","tickSize":{"condition":{"test":"datum.value % 200 == 0","value":-8},"value":-5},"tickWidth":2,"tickColor":"black","domainColor":"black","domainWidth":2,"labelFontSize":15,"labelFontWeight":"bold","labelColor":"black","labelPadding":22,"labelOverlap":false,"labelFlush":false,"title":"ms","titleFontSize":18,"titleFontWeight":"bold","titleColor":"black","titlePadding":20,"offset":-31,"grid":false}},"y":{"field":"uV","type":"quantitative","axis":null},"color":{"field":"grp","type":"nominal"},"strokeDash":{"field":"grp","type":"nominal"}}},
  {"transform":[{"filter":"datum.grp == 'A'"}],
   "mark":{"type":"line","strokeWidth":2,"clip":false},
   "encoding":{"x":{"field":"ms","type":"quantitative","axis":{"values":[-100,0,100,200,300,400,500,600,700,800],"labelExpr":"datum.value >= 0 && datum.value % 200 == 0 ? datum.label : ''","tickSize":{"condition":{"test":"datum.value % 200 == 0","value":-8},"value":-5},"tickWidth":2,"tickColor":"black","domainColor":"black","domainWidth":2,"labelFontSize":15,"labelFontWeight":"bold","labelColor":"black","labelPadding":22,"labelOverlap":false,"labelFlush":false,"title":"ms","titleFontSize":18,"titleFontWeight":"bold","titleColor":"black","titlePadding":20,"offset":-31,"grid":false}},"y":{"field":"uV","type":"quantitative","axis":null},"color":{"field":"grp","type":"nominal"},"strokeDash":{"field":"grp","type":"nominal"}}},
  {"transform":[{"filter":"datum.grp == 'E'"}],
   "mark":{"type":"line","strokeWidth":2,"color":"#111111","clip":false},
   "encoding":{"x":{"field":"ms","type":"quantitative","axis":{"values":[-100,0,100,200,300,400,500,600,700,800],"labelExpr":"datum.value >= 0 && datum.value % 200 == 0 ? datum.label : ''","tickSize":{"condition":{"test":"datum.value % 200 == 0","value":-8},"value":-5},"tickWidth":2,"tickColor":"black","domainColor":"black","domainWidth":2,"labelFontSize":15,"labelFontWeight":"bold","labelColor":"black","labelPadding":22,"labelOverlap":false,"labelFlush":false,"title":"ms","titleFontSize":18,"titleFontWeight":"bold","titleColor":"black","titlePadding":20,"offset":-31,"grid":false}},"y":{"field":"uV","type":"quantitative","axis":null}}},
  {"transform":[{"filter":"datum.grp == 'cal'"}],
   "mark":{"type":"rule","strokeWidth":2,"color":"#111111"},
   "encoding":{"x":{"field":"ms","type":"quantitative","axis":{"values":[-100,0,100,200,300,400,500,600,700,800],"labelExpr":"datum.value >= 0 && datum.value % 200 == 0 ? datum.label : ''","tickSize":{"condition":{"test":"datum.value % 200 == 0","value":-8},"value":-5},"tickWidth":2,"tickColor":"black","domainColor":"black","domainWidth":2,"labelFontSize":15,"labelFontWeight":"bold","labelColor":"black","labelPadding":22,"labelOverlap":false,"labelFlush":false,"title":"ms","titleFontSize":18,"titleFontWeight":"bold","titleColor":"black","titlePadding":20,"offset":-31,"grid":false}},"x2":{"field":"ms2"},"y":{"field":"uV","type":"quantitative","axis":null},"y2":{"field":"uV2"}}},
  {"transform":[{"filter":"datum.grp == 'lab' && datum.ch != '10 µV'"}],
   "mark":{"type":"text","align":"left","baseline":"middle","fontSize":20,"fontWeight":"bold","color":"black"},
   "encoding":{"x":{"datum":-618,"type":"quantitative","axis":{"values":[-100,0,100,200,300,400,500,600,700,800],"labelExpr":"datum.value >= 0 && datum.value % 200 == 0 ? datum.label : ''","tickSize":{"condition":{"test":"datum.value % 200 == 0","value":-8},"value":-5},"tickWidth":2,"tickColor":"black","domainColor":"black","domainWidth":2,"labelFontSize":15,"labelFontWeight":"bold","labelColor":"black","labelPadding":22,"labelOverlap":false,"labelFlush":false,"title":"ms","titleFontSize":18,"titleFontWeight":"bold","titleColor":"black","titlePadding":20,"offset":-31,"grid":false}},"y":{"datum":-0.3,"type":"quantitative","axis":null},"text":{"field":"ch","type":"nominal"}}},
  {"transform":[{"filter":"datum.grp == 'lab' && datum.ch == '10 µV'"}],
   "mark":{"type":"text","align":"left","baseline":"middle","fontSize":19,"fontWeight":"bold","color":"black"},
   "encoding":{"x":{"datum":-567,"type":"quantitative","axis":{"values":[-100,0,100,200,300,400,500,600,700,800],"labelExpr":"datum.value >= 0 && datum.value % 200 == 0 ? datum.label : ''","tickSize":{"condition":{"test":"datum.value % 200 == 0","value":-8},"value":-5},"tickWidth":2,"tickColor":"black","domainColor":"black","domainWidth":2,"labelFontSize":15,"labelFontWeight":"bold","labelColor":"black","labelPadding":22,"labelOverlap":false,"labelFlush":false,"title":"ms","titleFontSize":18,"titleFontWeight":"bold","titleColor":"black","titlePadding":20,"offset":-31,"grid":false}},"y":{"datum":-0.5,"type":"quantitative","axis":null},"text":{"field":"ch","type":"nominal"}}}
 ]
}
}
